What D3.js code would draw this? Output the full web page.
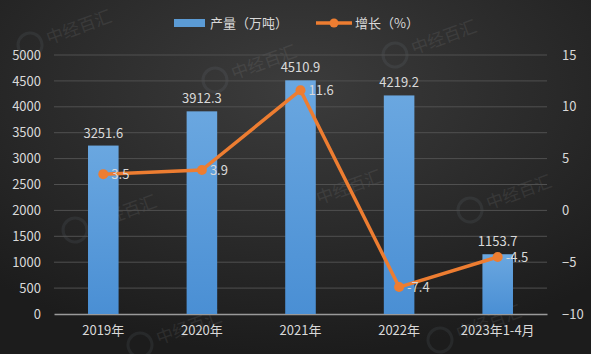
<!DOCTYPE html>
<html>
<head>
<meta charset="utf-8">
<script src="https://cdn.jsdelivr.net/npm/d3@7"></script>
<style>
  body { margin: 0; background: #222; }
  #chart { width: 591px; height: 354px; }
  text { font-family: "Microsoft YaHei", "Noto Sans CJK SC", sans-serif; }
</style>
</head>
<body>
<div id="chart"></div>
<script>
// chart data
const categories = ["2019年", "2020年", "2021年", "2022年", "2023年1-4月"];
const output = [3251.6, 3912.3, 4510.9, 4219.2, 1153.7];
const growth = [3.5, 3.9, 11.6, -7.4, -4.5];
const leftTicks = [0, 500, 1000, 1500, 2000, 2500, 3000, 3500, 4000, 4500, 5000];
const rightTicks = [-10, -5, 0, 5, 10, 15];

const width = 591, height = 354;
const margin = { top: 55, right: 44, bottom: 40, left: 54 };

const svg = d3.select("#chart").append("svg")
  .attr("width", width)
  .attr("height", height);

// background gradient
const defs = svg.append("defs");
const bg = defs.append("radialGradient")
  .attr("id", "bg")
  .attr("cx", "50%").attr("cy", "25%").attr("r", "75%");
bg.append("stop").attr("offset", "0%").attr("stop-color", "#3c3c3c");
bg.append("stop").attr("offset", "100%").attr("stop-color", "#1c1c1c");

const barGrad = defs.append("linearGradient")
  .attr("id", "barGrad")
  .attr("x1", 0).attr("y1", 0).attr("x2", 0).attr("y2", 1);
barGrad.append("stop").attr("offset", "0%").attr("stop-color", "#6aa7e0");
barGrad.append("stop").attr("offset", "100%").attr("stop-color", "#4a8fd4");

svg.append("rect")
  .attr("width", width).attr("height", height)
  .attr("fill", "url(#bg)");

// faint watermarks
const marks = [[30, 45], [215, 80], [395, 55], [75, 230], [300, 205], [470, 210], [140, 345], [440, 340]];
marks.forEach(([mx, my]) => {
  const g = svg.append("g")
    .attr("transform", `translate(${mx},${my}) rotate(-20)`)
    .attr("opacity", 0.09);
  g.append("circle").attr("r", 12).attr("fill", "none").attr("stroke", "#9ab").attr("stroke-width", 3);
  g.append("text").attr("x", 18).attr("y", 6).attr("fill", "#ccc")
    .style("font-size", "17px").text("中经百汇");
});

const x = d3.scaleBand()
  .domain(categories)
  .range([margin.left, width - margin.right])
  .paddingInner(0.69)
  .paddingOuter(0.345);

const yL = d3.scaleLinear().domain([0, 5000]).range([height - margin.bottom, margin.top]);
const yR = d3.scaleLinear().domain([-10, 15]).range([height - margin.bottom, margin.top]);

// gridlines
svg.append("g")
  .selectAll("line")
  .data(leftTicks.slice(1))
  .join("line")
  .attr("x1", margin.left).attr("x2", width - margin.right)
  .attr("y1", d => yL(d)).attr("y2", d => yL(d))
  .attr("stroke", "#505050")
  .attr("stroke-width", 1);

// left axis
const axisL = svg.append("g")
  .attr("transform", `translate(${margin.left - 10},0)`)
  .call(d3.axisLeft(yL).tickValues(leftTicks).tickFormat(d3.format("d")).tickSize(0).tickPadding(3));
axisL.select(".domain").remove();
axisL.selectAll("text").attr("fill", "#d9d9d9").style("font-size", "13px");

// right axis
const axisR = svg.append("g")
  .attr("transform", `translate(${width - margin.right + 6},0)`)
  .call(d3.axisRight(yR).tickValues(rightTicks).tickFormat(d3.format("d")).tickSize(0).tickPadding(9));
axisR.select(".domain").remove();
axisR.selectAll("text").attr("fill", "#d9d9d9").style("font-size", "13px");

// bottom axis
const axisB = svg.append("g")
  .attr("transform", `translate(0,${height - margin.bottom})`)
  .call(d3.axisBottom(x).tickSize(0).tickPadding(12));
axisB.select(".domain").attr("stroke", "#9a9a9a").attr("stroke-width", 1.5);
axisB.selectAll("text").attr("fill", "#d9d9d9").style("font-size", "13px");

// bars
svg.append("g")
  .selectAll("rect")
  .data(output)
  .join("rect")
  .attr("x", (d, i) => x(categories[i]))
  .attr("y", d => yL(d))
  .attr("width", x.bandwidth())
  .attr("height", d => yL(0) - yL(d))
  .attr("fill", "url(#barGrad)");

svg.append("g")
  .selectAll("text")
  .data(output)
  .join("text")
  .attr("x", (d, i) => x(categories[i]) + x.bandwidth() / 2)
  .attr("y", d => yL(d) - 8)
  .attr("text-anchor", "middle")
  .attr("fill", "#d9d9d9")
  .style("font-size", "13px")
  .text(d => d.toFixed(1));

// growth line
const cx = (d, i) => x(categories[i]) + x.bandwidth() / 2;
const line = d3.line()
  .x((d, i) => cx(d, i))
  .y(d => yR(d));

svg.append("path")
  .datum(growth)
  .attr("d", line)
  .attr("fill", "none")
  .attr("stroke", "#ed7d31")
  .attr("stroke-width", 3.5)
  .attr("stroke-linejoin", "round");

svg.append("g")
  .selectAll("circle")
  .data(growth)
  .join("circle")
  .attr("cx", cx)
  .attr("cy", d => yR(d))
  .attr("r", 5)
  .attr("fill", "#ed7d31");

svg.append("g")
  .selectAll("text")
  .data(growth)
  .join("text")
  .attr("x", (d, i) => cx(d, i) + 8)
  .attr("y", d => yR(d) + 5)
  .attr("fill", "#d9d9d9")
  .style("font-size", "13px")
  .text(d => d.toFixed(1));

// legend
const legend = svg.append("g").attr("transform", "translate(174,23)");
legend.append("rect")
  .attr("x", 0).attr("y", -4).attr("width", 31).attr("height", 8)
  .attr("fill", "#5b9bd5");
legend.append("text")
  .attr("x", 36).attr("y", 5)
  .attr("fill", "#d9d9d9").style("font-size", "13px")
  .text("产量（万吨）");
legend.append("line")
  .attr("x1", 142).attr("x2", 178).attr("y1", 0).attr("y2", 0)
  .attr("stroke", "#ed7d31").attr("stroke-width", 3.5);
legend.append("circle")
  .attr("cx", 160).attr("cy", 0).attr("r", 4.5).attr("fill", "#ed7d31");
legend.append("text")
  .attr("x", 181).attr("y", 5)
  .attr("fill", "#d9d9d9").style("font-size", "13px")
  .text("增长（%）");
</script>
</body>
</html>
